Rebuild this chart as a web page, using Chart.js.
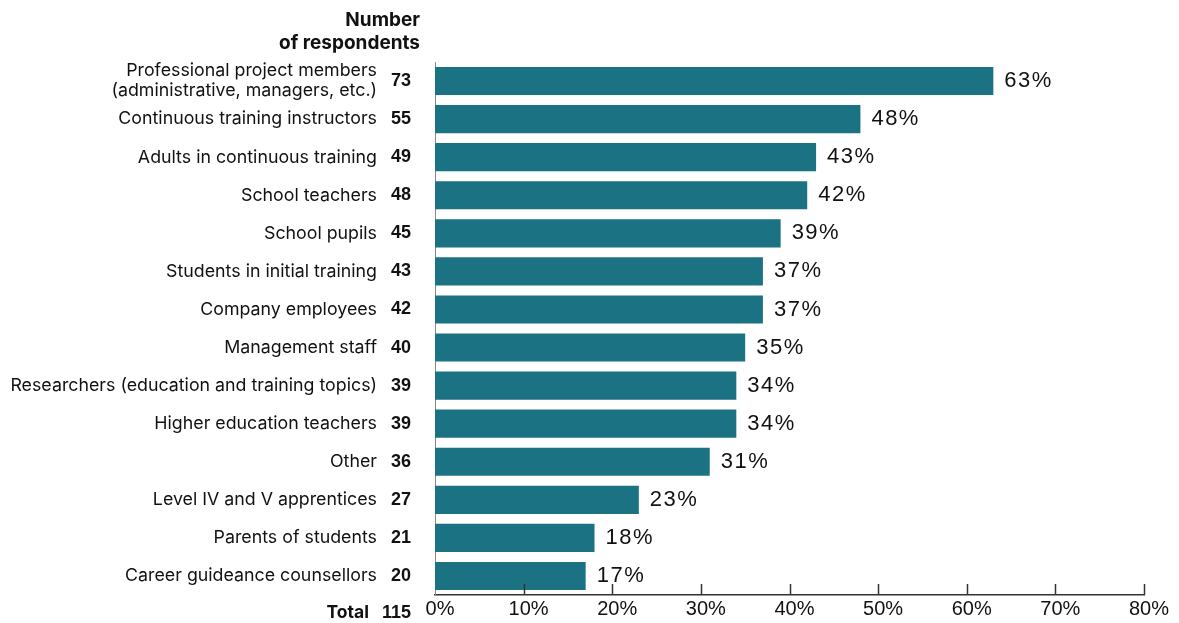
<!DOCTYPE html>
<html>
<head>
<meta charset="utf-8">
<script src="https://cdn.jsdelivr.net/npm/chart.js@4.4.0/dist/chart.umd.min.js"></script>
<style>
  html, body { margin: 0; padding: 0; background: #fff; }
  #wrap { width: 1179px; height: 623px; position: relative; }
</style>
</head>
<body>
<div id="wrap"><canvas id="graphRespondents"></canvas></div>
<script>
// categories, top to bottom
const categories = [
  ["Professional project members", "(administrative, managers, etc.)"],
  "Continuous training instructors",
  "Adults in continuous training",
  "School teachers",
  "School pupils",
  "Students in initial training",
  "Company employees",
  "Management staff",
  "Researchers (education and training topics)",
  "Higher education teachers",
  "Other",
  "Level IV and V apprentices",
  "Parents of students",
  "Career guideance counsellors"
];
const respondents = [73, 55, 49, 48, 45, 43, 42, 40, 39, 39, 36, 27, 21, 20];
const shares = [63, 48, 43, 42, 39, 37, 37, 35, 34, 34, 31, 23, 18, 17];
const totalRespondents = 115;
const headerLines = ["Number", "of respondents"];
const xMax = 80;
const xStep = 10;

const barColor = "#1b7282";
const labelFont = "Inter, 'Noto Sans', sans-serif";
const numFont = "'Liberation Sans', Arial, sans-serif";

// draws category names, counts, values, upward ticks
const sidePlugin = {
  id: "sideLabels",
  afterDraw(chart) {
    const ctx = chart.ctx;
    const x = chart.scales.x;
    const y = chart.scales.y;
    const area = chart.chartArea;
    ctx.save();

    // ticks going up from the axis
    ctx.strokeStyle = "#333";
    ctx.lineWidth = 1.5;
    for (let v = xStep; v <= xMax; v += xStep) {
      const px = Math.round(x.getPixelForValue(v)) + 0.5;
      ctx.beginPath();
      ctx.moveTo(px, area.bottom);
      ctx.lineTo(px, area.bottom - 11);
      ctx.stroke();
    }

    ctx.textBaseline = "middle";
    categories.forEach((cat, i) => {
      const py = y.getPixelForValue(i);
      ctx.fillStyle = "#111";
      ctx.textAlign = "right";
      ctx.letterSpacing = "0px";
      ctx.font = "17.8px " + labelFont;
      if (Array.isArray(cat)) {
        ctx.fillText(cat[0], 377, py - 10);
        ctx.fillText(cat[1], 377, py + 10);
      } else {
        ctx.fillText(cat, 377, py);
      }
      ctx.font = "bold 18px " + numFont;
      ctx.fillText(String(respondents[i]), 411, py);

      ctx.textAlign = "left";
      ctx.letterSpacing = "1.5px";
      ctx.font = "22px " + numFont;
      ctx.fillText(shares[i] + "%", x.getPixelForValue(shares[i]) + 11, py);
    });

    // header and total
    ctx.letterSpacing = "0px";
    ctx.textAlign = "right";
    ctx.fillStyle = "#111";
    ctx.font = "bold 19px " + labelFont;
    ctx.fillText(headerLines[0], 420, 20);
    ctx.fillText(headerLines[1], 420, 43);
    ctx.font = "bold 17.5px " + labelFont;
    ctx.fillText("Total", 369, 613);
    ctx.font = "bold 18px " + numFont;
    ctx.fillText(String(totalRespondents), 411, 613);

    ctx.restore();
  }
};

const data = {
  labels: categories.map(c => Array.isArray(c) ? c.join(" ") : c),
  datasets: [{
    data: shares,
    backgroundColor: barColor,
    barPercentage: 0.74,
    categoryPercentage: 1.0
  }]
};

const config = {
  type: "bar",
  data: data,
  options: {
    indexAxis: "y",
    responsive: true,
    maintainAspectRatio: false,
    animation: false,
    layout: { padding: { left: 435, right: 35, top: 62, bottom: 0 } },
    plugins: {
      legend: { display: false },
      tooltip: { enabled: false }
    },
    scales: {
      x: {
        min: 0,
        max: xMax,
        grid: { display: false, drawTicks: false },
        border: { display: true, color: "#333", width: 1.5 },
        ticks: {
          stepSize: xStep,
          padding: 4,
          labelOffset: 5,
          color: "#111",
          font: { family: numFont, size: 20, lineHeight: 1.0 },
          callback: v => v + "%"
        }
      },
      y: {
        grid: { display: false, drawTicks: false },
        border: { display: true, color: "#888", width: 1 },
        ticks: { display: false }
      }
    }
  },
  plugins: [sidePlugin]
};

const ctx = document.getElementById("graphRespondents");
const myChart = new Chart(ctx, config);
</script>
</body>
</html>
